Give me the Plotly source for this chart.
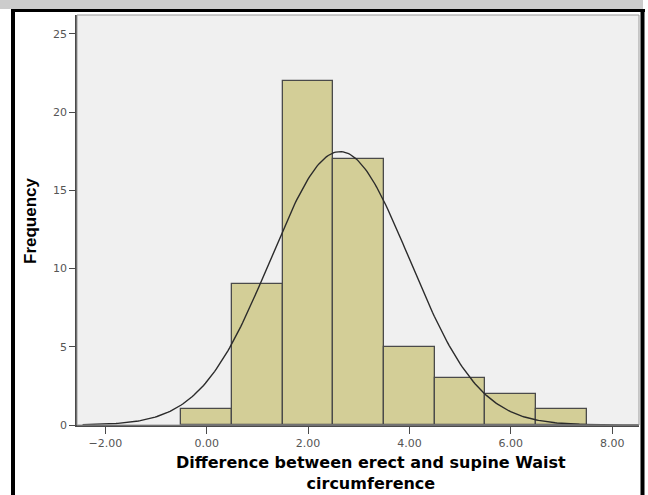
import numpy as np
import plotly.graph_objects as go

# histogram (bin width 1, centred on integers)
bin_centers = [0, 1, 2, 3, 4, 5, 6, 7]
counts = [1, 9, 22, 17, 5, 3, 2, 1]

# fitted normal curve parameters
MEAN = 2.63
SD = 1.37
BIN_WIDTH = 1.0

x_ticks = [-2, 0, 2, 4, 6, 8]
y_ticks = [0, 5, 10, 15, 20, 25]

BAR_FILL = "#d3ce97"
EDGE = "#4a4a4a"
TICK_GREY = "#555555"

n = sum(counts)
xs = np.linspace(-2.45, 8.53, 300)
curve = n * BIN_WIDTH / (SD * np.sqrt(2 * np.pi)) * np.exp(-0.5 * ((xs - MEAN) / SD) ** 2)

fig = go.Figure()
fig.add_trace(
    go.Bar(
        x=bin_centers,
        y=counts,
        width=BIN_WIDTH,
        marker=dict(color=BAR_FILL, line=dict(color=EDGE, width=1.3)),
        showlegend=False,
    )
)
fig.add_trace(
    go.Scatter(
        x=xs,
        y=curve,
        mode="lines",
        line=dict(color="#2b2b2b", width=1.4),
        showlegend=False,
    )
)

# page furniture: grey strip on top and black frame (pixel -> paper)
PW, PH = 562.0, 410.0


def px(p):
    return (p - 77) / PW


def py(p):
    return (425 - p) / PH


shapes = [
    dict(type="rect", xref="paper", yref="paper", x0=px(0), x1=px(643), y0=py(0), y1=py(9),
         fillcolor="#cccccc", line_width=0, layer="below"),
    dict(type="line", xref="paper", yref="paper", x0=px(13), x1=px(13), y0=py(9), y1=py(495),
         line=dict(color="black", width=4)),
    dict(type="line", xref="paper", yref="paper", x0=px(11), x1=px(645), y0=py(10.5), y1=py(10.5),
         line=dict(color="black", width=3)),
    dict(type="line", xref="paper", yref="paper", x0=px(642.5), x1=px(642.5), y0=py(9), y1=py(495),
         line=dict(color="black", width=4)),
    dict(type="rect", xref="paper", yref="paper", x0=0, x1=1, y0=0, y1=1,
         line=dict(color="#9a9a9a", width=1)),
]

fig.update_layout(
    width=648,
    height=495,
    margin=dict(l=77, r=9, t=15, b=70),
    paper_bgcolor="white",
    plot_bgcolor="#f0f0f0",
    bargap=0,
    shapes=shapes,
    font=dict(family="DejaVu Sans, Liberation Sans, sans-serif", color=TICK_GREY, size=11),
    annotations=[
        dict(
            text="<b>Difference between erect and supine Waist<br>circumference</b>",
            xref="paper", yref="paper", x=px(371), y=py(473),
            xanchor="center", yanchor="middle", showarrow=False, align="center",
            font=dict(family="DejaVu Sans, Verdana, sans-serif", size=16, color="black"),
        ),
        dict(
            text="<b>Frequency</b>",
            xref="paper", yref="paper", x=px(30), y=py(221),
            xanchor="center", yanchor="middle", showarrow=False, textangle=-90,
            font=dict(family="Liberation Sans Narrow, Arial Narrow, Liberation Sans, sans-serif",
                      size=17, color="black"),
        ),
    ],
)
fig.update_xaxes(
    range=[-2.56, 8.53],
    tickvals=x_ticks,
    tickformat=".2f",
    ticks="outside",
    ticklen=7,
    tickcolor=EDGE,
    showline=True,
    linecolor=EDGE,
    linewidth=1.5,
    showgrid=False,
    zeroline=False,
)
fig.update_yaxes(
    range=[0, 26.2],
    tickvals=y_ticks,
    ticks="outside",
    ticklen=6,
    tickcolor=EDGE,
    showline=True,
    linecolor=EDGE,
    linewidth=1.5,
    showgrid=False,
    zeroline=False,
)

fig.write_html(
    "out.html",
    config={"displayModeBar": False},
    post_script="document.body.style.margin='0';",
)
